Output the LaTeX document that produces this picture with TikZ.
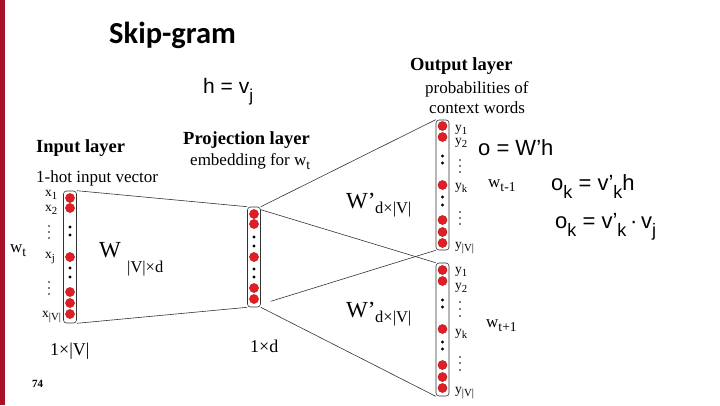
\documentclass[tikz,border=0pt]{standalone}
\usepackage{fontspec}
\setmainfont{Liberation Serif}
\newfontfamily\eqfont{Liberation Sans}
\newfontfamily\titlefont{Carlito}
\usetikzlibrary{calc}
\definecolor{unitred}{RGB}{226,30,36}
\definecolor{barred}{RGB}{168,18,40}
\newcommand{\lowsub}[1]{\raisebox{-.6ex}{\scalebox{.8}{#1}}}
\newcommand{\eqsub}[1]{\raisebox{-.75ex}{\scalebox{.82}{#1}}}
\tikzstyle{layerbox} = [rectangle, rounded corners=3pt, draw=black!80, line width=0.6pt, minimum width=13pt, inner sep=0pt]
\tikzstyle{neuron} = [fill=unitred, draw=unitred!70!black, line width=0.3pt]
\tikzstyle{gapdot} = [fill=black]
\tikzstyle{conn} = [draw=black!80, line width=0.6pt]
\tikzstyle{hdr} = [anchor=base west, inner sep=0pt, font=\bfseries\fontsize{18.5}{20}\selectfont]
\tikzstyle{sublbl} = [anchor=base west, inner sep=0pt, font=\fontsize{17}{19}\selectfont]
\tikzstyle{idx} = [anchor=base west, inner sep=0pt, font=\fontsize{13.5}{15}\selectfont]
\tikzstyle{eqn} = [anchor=base west, inner sep=0pt, font=\eqfont\fontsize{22}{24}\selectfont]
\tikzstyle{matlbl} = [anchor=base west, inner sep=0pt, font=\fontsize{23}{25}\selectfont]
\tikzstyle{dimlbl} = [anchor=base west, inner sep=0pt, font=\fontsize{16.5}{18}\selectfont]
\begin{document}
\begin{tikzpicture}[x=1pt,y=-1pt]
\useasboundingbox (0,0) rectangle (720,405);
\fill[barred] (0,0) rectangle (5,405);

\node (title)[anchor=base west, inner sep=0pt, font=\titlefont\bfseries\fontsize{30.5}{32}\selectfont] at (109,43) {Skip-gram};
\node (heq)[eqn, font=\eqfont\fontsize{21}{23}\selectfont] at (203,93) {h = v\eqsub{j}};

\node (inlayer)[layerbox, minimum height=132pt] at (70,257) {};
\node (projlayer)[layerbox, minimum height=100pt] at (254,257) {};
\node (outtop)[layerbox, minimum height=130pt] at (442.5,185) {};
\node (outbot)[layerbox, minimum height=133pt] at (442.5,329.5) {};

\foreach \y in {198,208,257,292,303,314} \draw[neuron] (70,\y) circle (4.6pt);
\foreach \y in {227,235,268,277} \fill[gapdot] (70,\y) circle (1.6pt);
\foreach \y in {214,224,257,288,299} \draw[neuron] (254,\y) circle (4.6pt);
\foreach \y in {237,246,269,277} \fill[gapdot] (254,\y) circle (1.6pt);
\foreach \y in {126,137,185,220,232,243} \draw[neuron] (442.5,\y) circle (4.6pt);
\foreach \y in {156,163,197,205} \fill[gapdot] (442.5,\y) circle (1.6pt);
\foreach \y in {270,281,329,365,377,388} \draw[neuron] (442.5,\y) circle (4.6pt);
\foreach \y in {300,307,342,349} \fill[gapdot] (442.5,\y) circle (1.6pt);

\draw [conn] (inlayer.north east) -- (projlayer.north west);
\draw [conn] (inlayer.south east) -- (projlayer.south west);
\draw [conn] (projlayer.north east) -- (outtop.north west);
\draw [conn] ($(projlayer.north east)+(0,3)$) -- (outbot.north west);
\draw [conn] ($(projlayer.south east)+(10,-6)$) -- (outtop.south west);
\draw [conn] (projlayer.south east) -- (outbot.south west);

\node (inhead)[hdr] at (36,152) {Input layer};
\node (insub)[sublbl] at (36,182) {1-hot input vector};
\node (x1)[idx] at (45,196) {x\lowsub{1}};
\node (x2)[idx] at (45,211) {x\lowsub{2}};
\node (xj)[idx] at (45,258) {x\lowsub{j}};
\node (xV)[idx] at (42,317) {x\lowsub{|V|}};
\foreach \y in {226,232,238,282,288,294} \fill (49,\y) circle (0.9pt);
\node (wt)[sublbl] at (10,252) {w\lowsub{t}};
\node (wmat)[matlbl] at (99,257) {W};
\node (wmatsub)[dimlbl] at (127,272) {|V|×d};
\node (indim)[dimlbl, font=\fontsize{18}{20}\selectfont] at (50,355) {1×|V|};

\node (projhead)[hdr] at (183,144) {Projection layer};
\node (projsub)[sublbl] at (190,165) {embedding for w\lowsub{t}};
\node (projdim)[dimlbl, font=\fontsize{18}{20}\selectfont] at (250,352) {1×d};

\node (wtop)[matlbl] at (346,208) {W’};
\node (wtopsub)[dimlbl] at (375,213) {d×|V|};
\node (wbot)[matlbl] at (346,317) {W’};
\node (wbotsub)[dimlbl] at (375,322) {d×|V|};

\node (outhead)[hdr] at (410,70) {Output layer};
\node (outsub1)[sublbl] at (425,93) {probabilities of};
\node (outsub2)[sublbl] at (429,113) {context words};
\node (ya1)[idx] at (455,131) {y\lowsub{1}};
\node (ya2)[idx] at (455,144) {y\lowsub{2}};
\node (yak)[idx] at (455,189) {y\lowsub{k}};
\node (yaV)[idx] at (455,248) {y\lowsub{|V|}};
\foreach \y in {160,166,172,212,218,224} \fill (460,\y) circle (0.9pt);
\node (yb1)[idx] at (455,273) {y\lowsub{1}};
\node (yb2)[idx] at (455,289) {y\lowsub{2}};
\node (ybk)[idx] at (455,335) {y\lowsub{k}};
\node (ybV)[idx] at (455,393) {y\lowsub{|V|}};
\foreach \y in {302,309,316,357,363,370} \fill (460,\y) circle (0.9pt);
\node (wprev)[sublbl] at (488,187) {w\lowsub{t-1}};
\node (wnext)[sublbl] at (486,327) {w\lowsub{t+1}};

\node (oeq)[eqn] at (478,155) {o = W’h};
\node (okeq)[eqn] at (551,190) {o\eqsub{k} = v’\eqsub{k}h};
\node (okveq)[eqn] at (555,228) {o\eqsub{k} = v’\eqsub{k}\,·\,v\eqsub{j}};

\node (pagenum)[anchor=base west, inner sep=0pt, font=\bfseries\fontsize{11}{12}\selectfont] at (32,387) {74};
\end{tikzpicture}
\end{document}
